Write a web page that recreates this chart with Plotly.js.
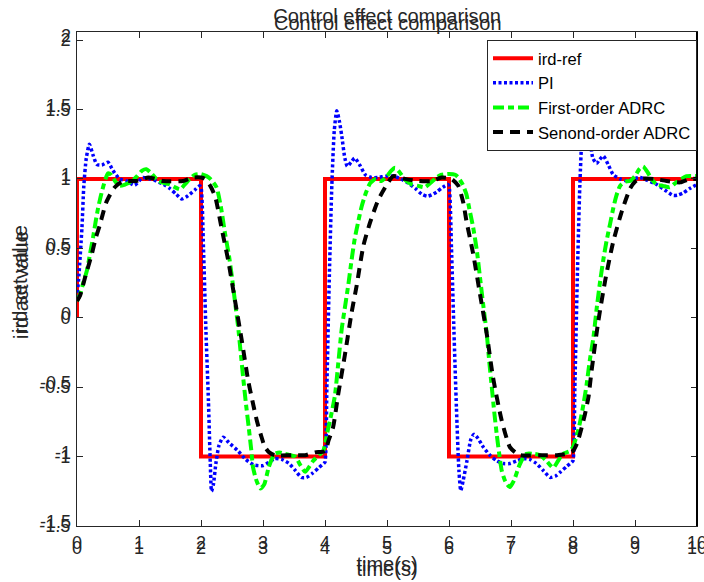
<!DOCTYPE html>
<html>
<head>
<meta charset="utf-8">
<script src="https://cdn.plot.ly/plotly-3.0.1.min.js"></script>
<style>html,body{margin:0;padding:0;background:#fff;}#chart{width:704px;height:582px;}</style>
</head>
<body>
<div id="chart"></div>
<script>
// ---- data ----
const refT = [0, 0, 2, 2, 4, 4, 6, 6, 8, 8, 10];
const refV = [0, 1, 1, -1, -1, 1, 1, -1, -1, 1, 1];

const piT = [0, 0.03, 0.08, 0.11, 0.15, 0.2, 0.26, 0.32, 0.4, 0.5, 0.58, 0.69, 0.8, 0.93, 1.06, 1.17, 1.28, 1.4, 1.5, 1.6, 1.69, 1.76, 1.82, 1.9, 1.98,
  2.0, 2.04, 2.08, 2.12, 2.15, 2.17, 2.2, 2.24, 2.29, 2.36, 2.45, 2.6, 2.72, 2.85, 3.0, 3.1, 3.19, 3.3, 3.42, 3.52, 3.62, 3.7, 3.8, 3.9, 3.98,
  4.0, 4.03, 4.07, 4.11, 4.15, 4.19, 4.23, 4.27, 4.32, 4.36, 4.42, 4.48, 4.56, 4.65, 4.75, 4.85, 4.98, 5.1, 5.22, 5.34, 5.46, 5.56, 5.65, 5.72, 5.8, 5.9, 5.98,
  6.0, 6.04, 6.08, 6.12, 6.16, 6.19, 6.23, 6.29, 6.35, 6.4, 6.47, 6.55, 6.66, 6.77, 6.88, 6.98, 7.1, 7.2, 7.3, 7.41, 7.52, 7.63, 7.72, 7.8, 7.9, 7.98,
  8.0, 8.03, 8.07, 8.11, 8.15, 8.19, 8.23, 8.27, 8.32, 8.38, 8.43, 8.49, 8.57, 8.65, 8.76, 8.87, 8.98, 9.08, 9.2, 9.35, 9.48, 9.62, 9.7, 9.78, 9.88, 10];
const piV = [0.14, 0.3, 0.65, 0.95, 1.15, 1.25, 1.17, 1.105, 1.1, 1.12, 1.06, 1.0, 0.985, 0.955, 1.01, 1.0, 0.985, 0.96, 0.93, 0.89, 0.855, 0.87, 0.89, 0.92, 0.95,
  0.94, 0.5, -0.1, -0.6, -1.05, -1.25, -1.2, -1.05, -0.92, -0.86, -0.9, -0.96, -1.02, -1.06, -1.065, -1.04, -1.015, -1.02, -1.05, -1.1, -1.15, -1.15, -1.12, -1.08, -1.05,
  -1.04, -0.5, 0.3, 0.95, 1.35, 1.49, 1.42, 1.31, 1.15, 1.09, 1.12, 1.15, 1.1, 1.03, 1.01, 1.01, 1.02, 1.02, 1.0, 0.97, 0.93, 0.89, 0.875, 0.885, 0.905, 0.94, 0.96,
  0.95, 0.5, -0.1, -0.65, -1.1, -1.245, -1.17, -1.03, -0.88, -0.84, -0.87, -0.93, -0.99, -1.03, -1.05, -1.05, -1.03, -1.015, -1.02, -1.05, -1.1, -1.15, -1.14, -1.11, -1.07, -1.04,
  -1.03, -0.5, 0.3, 0.95, 1.35, 1.49, 1.42, 1.3, 1.15, 1.11, 1.14, 1.165, 1.1, 1.03, 1.0, 0.985, 1.0, 1.01, 0.99, 0.96, 0.92, 0.88, 0.885, 0.9, 0.93, 0.96];

const adrc1T = [0, 0.05, 0.1, 0.16, 0.21, 0.26, 0.3, 0.34, 0.38, 0.42, 0.46, 0.5, 0.55, 0.62, 0.69, 0.78, 0.88, 0.97, 1.05, 1.12, 1.2, 1.31, 1.41, 1.5, 1.58, 1.66, 1.74, 1.82, 1.9, 2.0,
  2.09, 2.15, 2.25, 2.32, 2.39, 2.45, 2.5, 2.55, 2.6, 2.64, 2.68, 2.72, 2.77, 2.81, 2.84, 2.9, 2.96, 3.02, 3.09, 3.14, 3.19, 3.27, 3.35, 3.44, 3.52, 3.6, 3.68, 3.75, 3.81, 3.9, 3.97,
  4.05, 4.1, 4.16, 4.22, 4.27, 4.33, 4.38, 4.43, 4.48, 4.54, 4.59, 4.66, 4.73, 4.82, 4.91, 5.0, 5.07, 5.13, 5.2, 5.3, 5.4, 5.5, 5.61, 5.7, 5.8, 5.88, 6.0,
  6.1, 6.15, 6.22, 6.28, 6.33, 6.39, 6.45, 6.5, 6.55, 6.61, 6.65, 6.69, 6.73, 6.77, 6.81, 6.85, 6.91, 6.98, 7.05, 7.12, 7.18, 7.25, 7.36, 7.47, 7.57, 7.68, 7.76, 7.84, 7.95,
  8.0, 8.06, 8.11, 8.17, 8.22, 8.27, 8.33, 8.38, 8.44, 8.49, 8.54, 8.6, 8.65, 8.7, 8.76, 8.84, 8.92, 9.0, 9.07, 9.13, 9.2, 9.28, 9.35, 9.45, 9.56, 9.65, 9.75, 9.83, 10];
const adrc1V = [0.12, 0.17, 0.25, 0.34, 0.46, 0.58, 0.69, 0.79, 0.87, 0.94, 1.0, 1.04, 1.03, 0.98, 0.95, 0.96, 0.98, 1.02, 1.06, 1.07, 1.04, 0.985, 0.97, 0.96, 0.94, 0.925, 0.96, 1.0, 1.03, 1.035,
  1.02, 1.0, 0.94, 0.8, 0.6, 0.45, 0.29, 0.11, -0.07, -0.25, -0.43, -0.6, -0.79, -0.95, -1.08, -1.18, -1.23, -1.2, -1.08, -1.02, -0.98, -0.97, -0.98, -0.99, -1.0, -1.06, -1.11, -1.07, -1.03, -0.99, -0.96,
  -0.8, -0.7, -0.56, -0.3, -0.08, 0.1, 0.25, 0.42, 0.57, 0.7, 0.8, 0.9, 0.97, 1.0, 0.985, 1.02, 1.06, 1.08, 1.05, 0.99, 0.96, 0.95, 0.94, 0.97, 1.01, 1.03, 1.035,
  1.03, 1.01, 0.96, 0.89, 0.78, 0.65, 0.48, 0.29, 0.1, -0.12, -0.32, -0.5, -0.68, -0.84, -0.98, -1.1, -1.18, -1.22, -1.17, -1.08, -1.02, -0.98, -0.98, -0.99, -1.03, -1.08, -1.03, -0.98, -0.96,
  -0.93, -0.85, -0.76, -0.62, -0.48, -0.31, -0.14, 0.06, 0.27, 0.42, 0.55, 0.68, 0.79, 0.88, 0.95, 0.98, 0.985, 1.02, 1.07, 1.09, 1.05, 0.99, 0.96, 0.95, 0.94, 0.97, 1.0, 1.02, 1.02];

const adrc2T = [0, 0.05, 0.13, 0.24, 0.3, 0.37, 0.43, 0.48, 0.55, 0.61, 0.69, 0.77, 0.96, 1.15, 1.39, 1.71, 1.8, 1.88, 2.0,
  2.06, 2.15, 2.23, 2.33, 2.44, 2.55, 2.66, 2.76, 2.83, 2.9, 2.97, 3.03, 3.1, 3.19, 3.46, 3.68, 3.84, 4.0,
  4.06, 4.13, 4.21, 4.32, 4.43, 4.51, 4.62, 4.73, 4.86, 5.0, 5.1, 5.29, 5.5, 5.72, 5.88, 6.04,
  6.15, 6.23, 6.28, 6.39, 6.5, 6.61, 6.71, 6.85, 6.98, 7.07, 7.15, 7.47, 7.74, 7.9, 8.0,
  8.07, 8.14, 8.19, 8.25, 8.3, 8.41, 8.52, 8.65, 8.79, 8.92, 9.0, 9.08, 9.3, 9.51, 9.73, 9.89, 10];
const adrc2V = [0.12, 0.16, 0.29, 0.46, 0.57, 0.67, 0.77, 0.84, 0.9, 0.94, 0.97, 0.985, 0.985, 1.01, 0.985, 0.985, 1.0, 1.01, 1.01,
  1.0, 0.95, 0.87, 0.65, 0.41, 0.12, -0.17, -0.45, -0.6, -0.74, -0.85, -0.93, -0.97, -0.99, -0.99, -0.99, -0.97, -0.96,
  -0.88, -0.79, -0.56, -0.27, 0.04, 0.23, 0.52, 0.69, 0.85, 0.96, 1.02, 1.0, 0.985, 0.985, 1.01, 1.0,
  0.95, 0.83, 0.7, 0.46, 0.17, -0.12, -0.43, -0.74, -0.93, -0.97, -0.99, -0.99, -0.99, -0.98, -0.96,
  -0.9, -0.79, -0.7, -0.57, -0.38, -0.02, 0.27, 0.55, 0.77, 0.93, 0.98, 1.0, 1.0, 0.985, 0.975, 1.0, 1.0];

const seriesNames = ['ird-ref', 'PI', 'First-order ADRC', 'Senond-order ADRC'];
const xTickVals = [0, 1, 2, 3, 4, 5, 6, 7, 8, 9, 10];
const xTickText = ['0', '1', '2', '3', '4', '5', '6', '7', '8', '9', '10'];
const yTickVals = [-1.5, -1, -0.5, 0, 0.5, 1, 1.5, 2];
const yTickText = ['-1.5', '-1', '-0.5', '0', '0.5', '1', '1.5', '2'];
const titleText = 'Control effect comparison';
const xTitle = 'time(s)';
const yTitle1 = 'ird set value';
const yTitle2 = 'ird act value';

// ---- chart ----
const FONT = 'Liberation Sans, Arial, Helvetica, sans-serif';
const TXT = '#262626';

const traces = [
  {x: refT, y: refV, name: seriesNames[0], mode: 'lines', line: {color: '#ff0000', width: 4}},
  {x: piT, y: piV, name: seriesNames[1], mode: 'lines', line: {color: '#0000ff', width: 3.5, dash: '3px,2.5px', shape: 'spline', smoothing: 0.6}},
  {x: adrc1T, y: adrc1V, name: seriesNames[2], mode: 'lines', line: {color: '#00ff00', width: 4, dash: '11px,4px,6px,4px', shape: 'spline', smoothing: 0.6}},
  {x: adrc2T, y: adrc2V, name: seriesNames[3], mode: 'lines', line: {color: '#000000', width: 4, dash: '10px,7px', shape: 'spline', smoothing: 0.6}},
  {x: [], y: [], xaxis: 'x2', yaxis: 'y2', showlegend: false, hoverinfo: 'skip', mode: 'lines'}
];

const yRange = [-1.5, 2.058];
const axisCommon = {
  showgrid: false, zeroline: false, ticklabeloverflow: 'allow',
  tickfont: {family: FONT, size: 18, color: TXT}
};

const layout = {
  width: 704, height: 582,
  margin: {l: 77, r: 7, t: 32, b: 56, pad: 0},
  paper_bgcolor: '#ffffff', plot_bgcolor: '#ffffff',
  font: {family: FONT, color: TXT},
  showlegend: true,
  title: {text: titleText, font: {family: FONT, size: 20, color: TXT}, x: 0.5, xref: 'paper', xanchor: 'center', y: 1 - 16 / 582, yref: 'container', yanchor: 'middle'},
  xaxis: Object.assign({}, axisCommon, {
    range: [0, 10], tickmode: 'array', tickvals: xTickVals, ticktext: xTickText,
    ticks: 'inside', ticklen: 6, tickcolor: TXT, tickwidth: 1,
    showline: true, linecolor: TXT, linewidth: 1, mirror: 'ticks',
    ticklabelstandoff: 0,
    title: {text: xTitle, font: {family: FONT, size: 20, color: TXT}, standoff: 3}
  }),
  xaxis2: Object.assign({}, axisCommon, {
    overlaying: 'x', anchor: 'y', side: 'bottom',
    range: [0, 10], tickmode: 'array', tickvals: xTickVals, ticktext: xTickText,
    ticks: '', showline: false,
    ticklabelstandoff: 9,
    title: {text: xTitle, font: {family: FONT, size: 20, color: TXT}, standoff: 1}
  }),
  yaxis: Object.assign({}, axisCommon, {
    range: yRange, tickmode: 'array', tickvals: yTickVals, ticktext: yTickText,
    ticks: 'inside', ticklen: 6, tickcolor: TXT, tickwidth: 1,
    showline: true, linecolor: TXT, linewidth: 1, mirror: 'ticks',
    ticklabelstandoff: 2,
    title: {text: yTitle1, font: {family: FONT, size: 20, color: TXT}, standoff: 6}
  }),
  yaxis2: Object.assign({}, axisCommon, {
    overlaying: 'y', anchor: 'x', side: 'left',
    range: yRange, tickmode: 'array', tickvals: yTickVals, ticktext: yTickText,
    ticks: '', showline: false,
    ticklabelstandoff: 5, ticklabelshift: -4,
    title: {text: '', font: {family: FONT, size: 20, color: TXT}}
  }),
  legend: {
    x: 1, xanchor: 'right', xref: 'paper',
    y: 1 - 8 / 494, yanchor: 'top', yref: 'paper',
    bgcolor: '#ffffff', bordercolor: TXT, borderwidth: 1,
    font: {family: FONT, size: 16.6, color: '#000000'},
    tracegroupgap: 0, itemwidth: 40
  },
  shapes: [
    {type: 'line', xref: 'paper', yref: 'paper', x0: 1, x1: 1, y0: 0, y1: 1, line: {color: '#000000', width: 2}}
  ],
  annotations: [
    {text: titleText, xref: 'paper', yref: 'paper', x: 0.5, y: 1, yshift: 9, xshift: 1,
     xanchor: 'center', yanchor: 'middle', showarrow: false,
     font: {family: FONT, size: 20, color: TXT}},
    {text: yTitle2, xref: 'paper', yref: 'paper', x: 0, y: 0.5, xshift: -56, yshift: -6,
     xanchor: 'center', yanchor: 'middle', textangle: -90, showarrow: false,
     font: {family: FONT, size: 20, color: TXT}}
  ]
};

Plotly.newPlot('chart', traces, layout, {displayModeBar: false, staticPlot: true});
</script>
</body>
</html>
